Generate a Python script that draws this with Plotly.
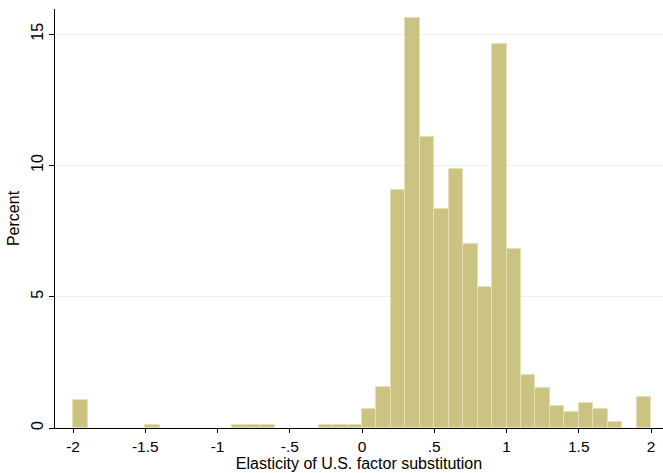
import plotly.graph_objects as go

# Histogram of elasticity estimates, bin width 0.1 (left edge of each non-empty bin)
bin_left = [-2.0, -1.5, -0.9, -0.8, -0.7, -0.3, -0.2, -0.1,
            0.0, 0.1, 0.2, 0.3, 0.4, 0.5, 0.6, 0.7, 0.8, 0.9,
            1.0, 1.1, 1.2, 1.3, 1.4, 1.5, 1.6, 1.7, 1.9]
percent = [1.08, 0.13, 0.13, 0.13, 0.13, 0.13, 0.13, 0.13,
           0.73, 1.56, 9.06, 15.6, 11.08, 8.33, 9.87, 7.02, 5.36, 14.64,
           6.80, 2.02, 1.54, 0.83, 0.60, 0.94, 0.71, 0.23, 1.19]
bin_width = 0.1

x_ticks = [-2, -1.5, -1, -0.5, 0, 0.5, 1, 1.5, 2]
x_tick_text = ["-2", "-1.5", "-1", "-.5", "0", ".5", "1", "1.5", "2"]
y_ticks = [0, 5, 10, 15]

centers = [b + bin_width / 2 for b in bin_left]

fig = go.Figure(
    go.Bar(
        x=centers,
        y=percent,
        width=bin_width,
        marker=dict(color="#CBC381", line=dict(color="#E6E0B4", width=1)),
        hoverinfo="x+y",
    )
)

font_family = "Liberation Sans, Arial, sans-serif"

fig.update_layout(
    width=663,
    height=473,
    margin=dict(l=55, r=0, t=9, b=45),
    paper_bgcolor="white",
    plot_bgcolor="white",
    showlegend=False,
    bargap=0,
    font=dict(family=font_family, color="black", size=14),
    xaxis=dict(
        range=[-2.125, 2.083],
        tickvals=x_ticks,
        ticktext=x_tick_text,
        ticks="outside",
        ticklen=4,
        tickcolor="black",
        tickfont=dict(size=15.5),
        showline=True,
        linecolor="black",
        linewidth=1,
        showgrid=False,
        zeroline=False,
        title=dict(text="Elasticity of U.S. factor substitution",
                   font=dict(size=16), standoff=2),
    ),
    yaxis=dict(
        range=[0, 15.96],
        tickvals=y_ticks,
        tickangle=-90,
        ticks="outside",
        ticklen=5,
        tickcolor="black",
        tickfont=dict(size=16),
        showline=True,
        linecolor="black",
        linewidth=1,
        showgrid=True,
        gridcolor="#E8F0F2",
        gridwidth=1,
        zeroline=False,
        title=dict(text="Percent", font=dict(size=16), standoff=4),
    ),
)

fig.write_html("out.html")
